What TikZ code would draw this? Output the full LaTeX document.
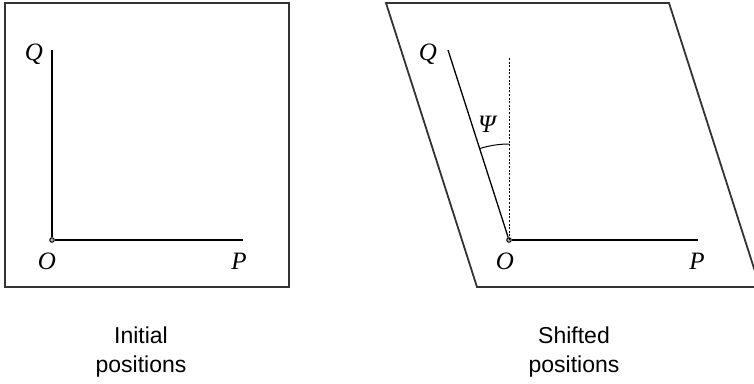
\documentclass[tikz,border=0pt]{standalone}
\usepackage{fontspec}
\setmainfont{Liberation Serif}
\newfontfamily\capfont{Liberation Sans}
\begin{document}
\begin{tikzpicture}[x=1pt,y=-1pt,
  frame/.style={draw=black!80,line width=1.8pt,line join=miter},
  axis/.style={draw=black,line width=1.3pt},
  guide/.style={draw=black,line width=1pt,dash pattern=on 2pt off 1.6pt},
  lab/.style={inner sep=0pt,font=\fontsize{25}{28}\selectfont\itshape},
  captxt/.style={inner sep=0pt,align=center,font=\capfont\fontsize{23}{29}\selectfont},
  dot/.style={circle,draw=black,fill=black!30,line width=1pt,inner sep=0pt,minimum size=4.5pt}]
\useasboundingbox (0,0) rectangle (754,383);
\clip (0,0) rectangle (754,383);
% left: initial positions
\draw[frame] (5,3) rectangle (289,287);
\coordinate (lQ) at (52,50);
\coordinate (lP) at (243,240);
\node[dot] (lO) at (52,240) {};
\draw[axis] (lO) -- (lQ);
\draw[axis] (lO) -- (lP);
\node[lab] (lQt) at (34,54) {Q};
\node[lab] (lOt) at (47,261) {O};
\node[lab] (lPt) at (239,261) {P};
\node[captxt] (c1) at (141,352) {Initial\\positions};
% right: shifted positions
\draw[frame] (386,3) -- (669,3) -- (760,287) -- (477,287) -- cycle;
\coordinate (rQ) at (448,50);
\coordinate (rP) at (698,240);
\coordinate (rV) at (509,58);
\coordinate (rA) at (509,144);
\node[dot] (rO) at (509,240) {};
\draw[guide] (rO.center) -- (rV);
\draw[axis] (rO) -- (rQ);
\draw[axis] (rO) -- (rP);
\draw[line width=1pt] (rA) arc[start angle=-90,end angle=-107.8,radius=96];
\node[lab] (rQt) at (428,54) {Q};
\node[lab] (psi) at (487,124) {Ψ};
\node[lab] (rOt) at (505,261) {O};
\node[lab] (rPt) at (697,261) {P};
\node[captxt] (c2) at (574,352) {Shifted\\positions};
\end{tikzpicture}
\end{document}
